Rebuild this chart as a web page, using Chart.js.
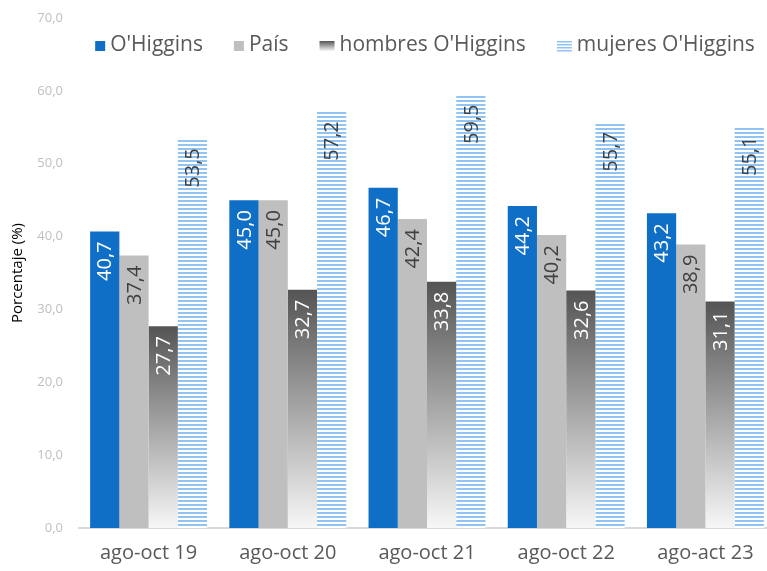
<!DOCTYPE html>
<html>
<head>
<meta charset="utf-8">
<script src="https://cdn.jsdelivr.net/npm/chart.js@4"></script>
<style>
  html, body { margin: 0; padding: 0; background: #fff; overflow: hidden; }
  #wrap { width: 775px; height: 571px; position: relative; }
</style>
</head>
<body>
<div id="wrap"><canvas id="chart"></canvas></div>
<script>
// ================= DATA =================
const categories = ["ago-oct 19", "ago-oct 20", "ago-oct 21", "ago-oct 22", "ago-act 23"];
const seriesNames = ["O'Higgins", "País", "hombres O'Higgins", "mujeres O'Higgins"];
const ohiggins = [40.7, 45.0, 46.7, 44.2, 43.2];
const pais = [37.4, 45.0, 42.4, 40.2, 38.9];
const hombres = [27.7, 32.7, 33.8, 32.6, 31.1];
const mujeres = [53.5, 57.2, 59.5, 55.7, 55.1];
const yTicks = { min: 0, max: 70, step: 10 };

// ================= STYLES =================
const BLUE = "#0f6ec5";
const GREY = "#bfbfbf";
const STRIPE = "#91c4f2";
const DARK_TOP = "#545454";
const DARK_BOTTOM = "#f7f7f7";
const FONT = "'Open Sans', sans-serif";

// horizontal stripes pattern for "mujeres"
function makeStripes() {
  const c = document.createElement("canvas");
  c.width = 4; c.height = 4;
  const g = c.getContext("2d");
  g.fillStyle = "#fff";
  g.fillRect(0, 0, 4, 4);
  g.fillStyle = STRIPE;
  g.fillRect(0, 0, 4, 2);
  return g.createPattern(c, "repeat");
}
const stripes = makeStripes();

// per bar vertical gradient for "hombres"
function darkGradient(ctx) {
  const chart = ctx.chart;
  if (!chart.chartArea || !ctx.parsed) return DARK_TOP;
  const y = chart.scales.y;
  const g = chart.ctx.createLinearGradient(0, y.getPixelForValue(ctx.parsed.y), 0, y.getPixelForValue(0));
  g.addColorStop(0, DARK_TOP);
  g.addColorStop(1, DARK_BOTTOM);
  return g;
}

// ================= LEGEND (drawn inside the plot, one row) =================
const keyWidths = [10, 10, 15, 15];
function drawKey(c, i, x, y) {
  const w = keyWidths[i], h = 10;
  if (i === 0) { c.fillStyle = BLUE; c.fillRect(x, y, w, h); }
  if (i === 1) { c.fillStyle = GREY; c.fillRect(x, y, w, h); }
  if (i === 2) {
    const gr = c.createLinearGradient(0, y, 0, y + h);
    gr.addColorStop(0, DARK_TOP); gr.addColorStop(1, DARK_BOTTOM);
    c.fillStyle = gr; c.fillRect(x, y, w, h);
  }
  if (i === 3) {
    c.fillStyle = STRIPE;
    for (let yy = 0; yy < h; yy += 3) c.fillRect(x, y + yy, w, 1.5);
  }
}
const rowLegend = {
  id: "rowLegend",
  afterDraw(chart) {
    const c = chart.ctx;
    const area = chart.chartArea;
    const rowY = 45;
    const gapKey = 5, gapItem = 31;
    c.save();
    c.font = "21px " + FONT;
    const widths = chart.data.datasets.map((ds, i) => keyWidths[i] + gapKey + c.measureText(ds.label).width);
    const total = widths.reduce((a, b) => a + b, 0) + gapItem * (widths.length - 1);
    let x = (area.left + area.right) / 2 - total / 2 - 2;
    chart.data.datasets.forEach((ds, i) => {
      drawKey(c, i, x, rowY - 4);
      c.fillStyle = "#595959";
      c.textAlign = "left";
      c.textBaseline = "middle";
      c.fillText(ds.label, x + keyWidths[i] + gapKey, rowY);
      x += widths[i] + gapItem;
    });
    c.restore();
  }
};

// ================= VALUE LABELS =================
const labelColors = ["#ffffff", "#404040", "#ffffff", "#404040"];
const valueLabels = {
  id: "valueLabels",
  afterDatasetsDraw(chart) {
    const c = chart.ctx;
    chart.data.datasets.forEach((ds, i) => {
      const meta = chart.getDatasetMeta(i);
      meta.data.forEach((bar, j) => {
        const text = ds.data[j].toFixed(1).replace(".", ",");
        c.save();
        c.translate(bar.x, bar.y + 10);
        c.rotate(-Math.PI / 2);
        c.font = "20px " + FONT;
        c.fillStyle = labelColors[i];
        c.textAlign = "right";
        c.textBaseline = "middle";
        c.fillText(text, 0, 1);
        c.restore();
      });
    });
  }
};

// ================= CHART =================
const fills = [BLUE, GREY, darkGradient, stripes];
const values = [ohiggins, pais, hombres, mujeres];

new Chart(document.getElementById("chart"), {
  type: "bar",
  data: {
    labels: categories,
    datasets: seriesNames.map((name, i) => ({
      label: name,
      data: values[i],
      backgroundColor: fills[i],
      borderWidth: 0,
      barPercentage: 1,
      categoryPercentage: 0.84
    }))
  },
  options: {
    responsive: true,
    maintainAspectRatio: false,
    animation: false,
    layout: { padding: { left: 0, top: 18, right: 0, bottom: 0 } },
    plugins: {
      tooltip: { enabled: false },
      legend: { display: false }
    },
    scales: {
      x: {
        grid: { display: false, drawTicks: false },
        border: { display: true, color: "#d9d9d9", width: 2 },
        ticks: { color: "#595959", font: { family: FONT, size: 20 }, padding: 13 },
        afterFit: scale => { scale.height = 43; }
      },
      y: {
        min: yTicks.min,
        max: yTicks.max,
        grid: { display: false, drawTicks: false },
        border: { display: false },
        ticks: {
          stepSize: yTicks.step,
          color: "#bfbfbf",
          font: { family: FONT, size: 13 },
          padding: 16,
          callback: v => v.toFixed(1).replace(".", ",")
        },
        title: {
          display: true,
          text: "Porcentaje (%)",
          color: "#000",
          font: { family: FONT, size: 15 },
          padding: { top: 9, bottom: 0 }
        },
        afterFit: scale => {
          scale.width = 79;
          scale.paddingTop = 0;
          scale.paddingBottom = 0;
        }
      }
    }
  },
  plugins: [valueLabels, rowLegend]
});
</script>
</body>
</html>
